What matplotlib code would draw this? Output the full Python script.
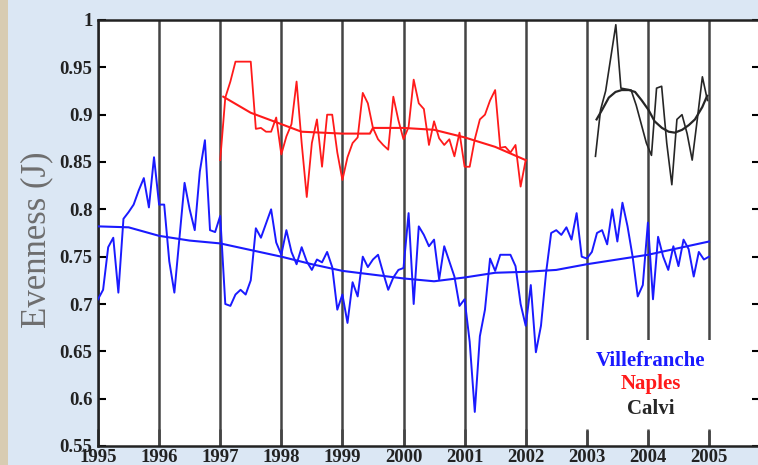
import numpy as np
import matplotlib
matplotlib.use('Agg')
import matplotlib.pyplot as plt
from matplotlib.patches import Rectangle

# ---------------- data ----------------
year_ticks = list(range(1995, 2006))
ytick_vals = [0.55, 0.6, 0.65, 0.7, 0.75, 0.8, 0.85, 0.9, 0.95, 1.0]
ytick_labels = ['0.55', '0.6', '0.65', '0.7', '0.75', '0.8', '0.85', '0.9', '0.95', '1']

# Villefranche monthly evenness, Jan 1995 .. Jan 2005
villefranche = [
    0.705, 0.715, 0.760, 0.770, 0.712, 0.790, 0.797, 0.805, 0.820, 0.833, 0.802, 0.855,   # 1995
    0.805, 0.805, 0.745, 0.712, 0.770, 0.828, 0.800, 0.778, 0.840, 0.873, 0.778, 0.776,   # 1996
    0.793, 0.700, 0.698, 0.710, 0.715, 0.710, 0.725, 0.780, 0.770, 0.785, 0.800, 0.765,   # 1997
    0.752, 0.778, 0.755, 0.742, 0.760, 0.745, 0.736, 0.747, 0.744, 0.755, 0.739, 0.694,   # 1998
    0.710, 0.680, 0.723, 0.708, 0.750, 0.739, 0.747, 0.752, 0.733, 0.715, 0.728, 0.736,   # 1999
    0.738, 0.796, 0.700, 0.782, 0.773, 0.761, 0.768, 0.726, 0.761, 0.745, 0.729, 0.698,   # 2000
    0.705, 0.660, 0.586, 0.666, 0.694, 0.748, 0.735, 0.752, 0.752, 0.752, 0.740, 0.700,   # 2001
    0.677, 0.720, 0.649, 0.677, 0.733, 0.775, 0.778, 0.773, 0.781, 0.768, 0.796, 0.750,   # 2002
    0.748, 0.755, 0.775, 0.778, 0.763, 0.800, 0.766, 0.807, 0.782, 0.750, 0.708, 0.720,   # 2003
    0.786, 0.705, 0.771, 0.750, 0.736, 0.761, 0.740, 0.768, 0.758, 0.729, 0.755, 0.747,   # 2004
    0.750,                                                                                # 2005
]
vf_start = 1995.0

# Naples monthly evenness, Jan 1997 .. Jan 2002
naples = [
    0.852, 0.918, 0.935, 0.956, 0.956, 0.956, 0.956, 0.885, 0.886, 0.882, 0.882, 0.897,   # 1997
    0.858, 0.877, 0.890, 0.935, 0.870, 0.813, 0.870, 0.895, 0.845, 0.900, 0.900, 0.860,   # 1998
    0.831, 0.855, 0.870, 0.876, 0.923, 0.912, 0.886, 0.874, 0.868, 0.863, 0.919, 0.894,   # 1999
    0.874, 0.887, 0.937, 0.912, 0.906, 0.868, 0.893, 0.875, 0.868, 0.874, 0.856, 0.881,   # 2000
    0.845, 0.845, 0.874, 0.895, 0.900, 0.915, 0.926, 0.865, 0.866, 0.860, 0.868, 0.824,   # 2001
    0.852,                                                                                # 2002
]
np_start = 1997.0

# Calvi monthly evenness, Mar 2003 .. Jan 2005
calvi = [0.856, 0.905, 0.925, 0.960, 0.995, 0.928, 0.927, 0.926, 0.910, 0.890,
         0.870, 0.857, 0.928, 0.930, 0.870, 0.826, 0.895, 0.900, 0.880, 0.852,
         0.895, 0.940, 0.915]
cv_start = 2003.0 + 1.7 / 12

# smoothed trends
vf_trend_t = [1995.0, 1995.5, 1996.0, 1996.5, 1997.0, 1997.5, 1998.0, 1998.5, 1999.0, 1999.5,
              2000.0, 2000.5, 2001.0, 2001.5, 2002.0, 2002.5, 2003.0, 2003.5, 2004.0, 2004.5, 2005.0]
vf_trend_v = [0.782, 0.781, 0.772, 0.767, 0.764, 0.757, 0.750, 0.742, 0.735, 0.731,
              0.727, 0.724, 0.728, 0.733, 0.734, 0.736, 0.742, 0.747, 0.752, 0.759, 0.766]

np_trend_t = [1997.05, 1997.5, 1998.0, 1998.33, 1999.0, 1999.45, 1999.5, 2000.0, 2000.5, 2001.0, 2001.5, 2002.0]
np_trend_v = [0.919, 0.902, 0.890, 0.882, 0.880, 0.880, 0.886, 0.886, 0.884, 0.876, 0.866, 0.852]

cv_trend_t = [2003.16, 2003.25, 2003.36, 2003.47, 2003.57, 2003.69, 2003.79, 2003.9, 2004.01,
              2004.11, 2004.23, 2004.34, 2004.44, 2004.56, 2004.67, 2004.77, 2004.89, 2004.97]
cv_trend_v = [0.895, 0.905, 0.918, 0.924, 0.926, 0.926, 0.924, 0.915, 0.905,
              0.893, 0.886, 0.882, 0.881, 0.884, 0.889, 0.895, 0.908, 0.920]

legend_names = ['Villefranche', 'Naples', 'Calvi']
colors = ['#1a1aff', '#ff1a1a', '#262626']

# ---------------- figure ----------------
W, H = 758, 465
fig = plt.figure(figsize=(W / 100, H / 100), dpi=100)
fig.patch.set_facecolor('#dbe7f4')
fig.add_artist(Rectangle((0, 0), 8 / W, 1, transform=fig.transFigure,
                         facecolor='#d8ccb2', edgecolor='none', zorder=0))

left_px, right_px, top_px, bot_px = 98, 760, 20, 446
ax = fig.add_axes([left_px / W, 1 - bot_px / H, (right_px - left_px) / W, (bot_px - top_px) / H])
ax.set_facecolor('white')
ax.set_xlim(1995, 1995 + (right_px - left_px) / 61.1)
ax.set_ylim(0.55, 1.0)

# vertical year lines
for yr in year_ticks:
    ax.axvline(yr, color='#444444', lw=1.8, zorder=1)

# white box behind legend text
ax.add_patch(Rectangle((2002.8, 0.566), 2.4, 0.096, facecolor='white',
                       edgecolor='none', zorder=1.5))

def mt(start, n):
    return start + np.arange(n) / 12.0

ax.plot(mt(vf_start, len(villefranche)), villefranche, color=colors[0], lw=1.4, zorder=3)
ax.plot(vf_trend_t, vf_trend_v, color=colors[0], lw=1.5, zorder=3)
ax.plot(mt(np_start, len(naples)), naples, color=colors[1], lw=1.3, zorder=3)
ax.plot(np_trend_t, np_trend_v, color=colors[1], lw=1.5, zorder=3)
ax.plot(mt(cv_start, len(calvi)), calvi, color=colors[2], lw=1.2, zorder=3)
ax.plot(cv_trend_t, cv_trend_v, color=colors[2], lw=1.6, zorder=3)

# ticks
ax.set_xticks(year_ticks)
ax.set_xticklabels([str(y) for y in year_ticks])
ax.set_yticks(ytick_vals)
ax.set_yticklabels(ytick_labels)
ax.tick_params(axis='x', direction='in', length=12, width=1.8, pad=2, color='#444444',
               labelsize=13.5, labelcolor='#222222')
ax.tick_params(axis='y', direction='in', length=6, width=1.5, pad=4, right=True,
               labelsize=13.5, labelcolor='#222222')
for lab in ax.get_xticklabels() + ax.get_yticklabels():
    lab.set_family(['Liberation Serif', 'DejaVu Serif'])
    lab.set_weight('bold')

for sp in ax.spines.values():
    sp.set_linewidth(1.8)
    sp.set_color('#222222')

# y label
fig.text(37 / W, 1 - 240 / H, 'Evenness (J)', rotation=90, ha='center', va='center',
         fontsize=25, color='#6e6e6e', family=['Liberation Serif', 'DejaVu Serif'])

# legend as coloured text
leg_y = [0.640, 0.615, 0.589]
for name, c, yy in zip(legend_names, colors, leg_y):
    ax.text(2004.05, yy, name, color=c, ha='center', va='center', fontsize=15,
            fontweight='bold', family=['Liberation Serif', 'DejaVu Serif'], zorder=4)

fig.savefig('out.png', dpi=100, facecolor=fig.get_facecolor())
